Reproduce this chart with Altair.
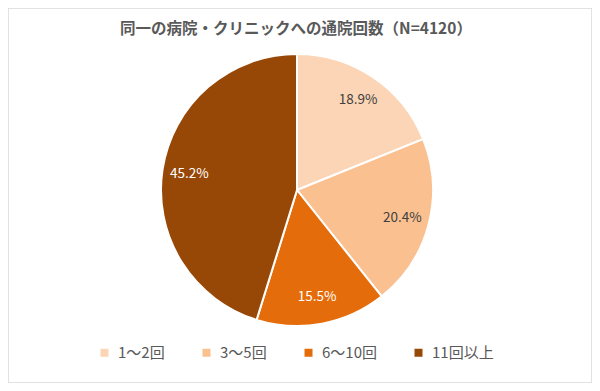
import altair as alt
import pandas as pd

title_text = ["同一の病院・クリニックへの通院回数（N=4120）"]
categories = ["1～2回", "3～5回", "6～10回", "11回以上"]
values = [18.9, 20.4, 15.5, 45.2]
labels = ["18.9%", "20.4%", "15.5%", "45.2%"]
colors = ["#FBD5B5", "#FAC090", "#E46C0A", "#974706"]

df = pd.DataFrame({
    "cat": categories,
    "value": values,
    "label": labels,
    "idx": list(range(len(categories))),
})
tdf = pd.DataFrame({"t": title_text})

FONT = "Noto Sans CJK JP"
CX, CY, R = 289, 182, 136

base = alt.Chart(df).encode(
    theta=alt.Theta("value:Q", stack=True),
    order=alt.Order("idx:O"),
)

pie = base.mark_arc(
    radius=R, stroke="white", strokeWidth=2, x=CX, y=CY
).encode(
    color=alt.Color(
        "cat:N",
        scale=alt.Scale(domain=categories, range=colors),
        legend=alt.Legend(
            title=None,
            orient="none",
            legendX=89,
            legendY=337,
            direction="horizontal",
            columns=4,
            symbolType="square",
            symbolSize=64,
            symbolStrokeWidth=0,
            labelFontSize=15,
            labelFont=FONT,
            labelColor="#595959",
            labelOffset=6,
            columnPadding=34,
            padding=0,
        ),
    )
)

text = base.mark_text(
    radius=109, fontSize=13.5, font=FONT, x=CX, y=CY
).encode(
    text="label:N",
    color=alt.condition(
        alt.FieldOneOfPredicate(field="cat", oneOf=["6～10回", "11回以上"]),
        alt.value("white"),
        alt.value("#404040"),
    ),
)

title = alt.Chart(tdf).mark_text(
    fontSize=15.5, fontWeight="bold", font=FONT, color="#595959"
).encode(
    text="t:N",
    x=alt.value(288),
    y=alt.value(21),
)

chart = alt.layer(pie, text, title).properties(
    width=584, height=375, padding=0, autosize="none"
).configure_view(stroke="#d9d9d9", strokeWidth=1.5)

chart.save("out.html", embed_options={"renderer": "svg", "actions": False})
